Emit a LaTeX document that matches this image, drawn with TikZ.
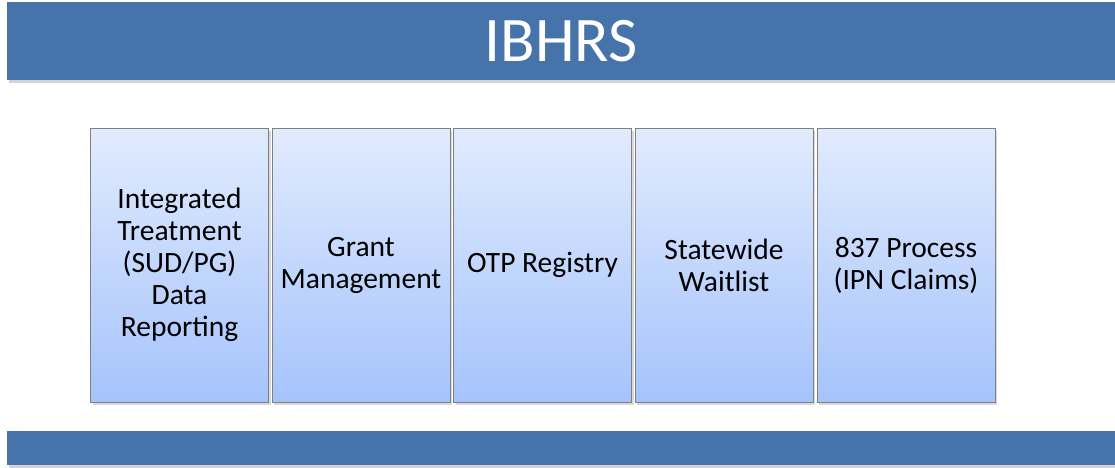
\documentclass[tikz,border=0pt]{standalone}
\usepackage{fontspec}
\setmainfont{Carlito}
\usetikzlibrary{shadows}
\definecolor{banner}{HTML}{4674AA}
\definecolor{boxtop}{HTML}{E1EBFD}
\definecolor{boxbot}{HTML}{A5C3FC}
\definecolor{boxline}{HTML}{808080}
\begin{document}
\begin{tikzpicture}[x=1pt,y=-1pt,
  bannerbox/.style={fill=banner,draw=none,inner sep=0pt,
    drop shadow={shadow xshift=2pt,shadow yshift=-3pt,opacity=0.35}},
  modbox/.style={draw=boxline,line width=1pt,top color=boxtop,bottom color=boxbot,
    minimum width=178pt,minimum height=274pt,inner sep=2pt,align=center,
    font=\fontsize{29.5}{32}\selectfont,
    drop shadow={shadow xshift=2pt,shadow yshift=-3pt,opacity=0.3}}]
\useasboundingbox (0,0) rectangle (1115,467);
\node[bannerbox,minimum width=1108pt,minimum height=78pt,anchor=north west,
  text=white,font=\fontsize{63.5}{66}\selectfont] (top) at (7,2) {IBHRS};
\node[bannerbox,minimum width=1108pt,minimum height=34pt,anchor=north west] (bot) at (7,431) {};
\node[modbox] (m1) at (179.5,265) {Integrated\\Treatment\\(SUD/PG)\\Data\\Reporting};
\node[modbox] (m2) at (361,265) {Grant\\Management};
\node[modbox] (m3) at (542.5,265) {OTP Registry};
\node[modbox] (m4) at (724,265) {Statewide\\Waitlist};
\node[modbox] (m5) at (906,265) {837 Process\\(IPN Claims)};
\end{tikzpicture}
\end{document}
